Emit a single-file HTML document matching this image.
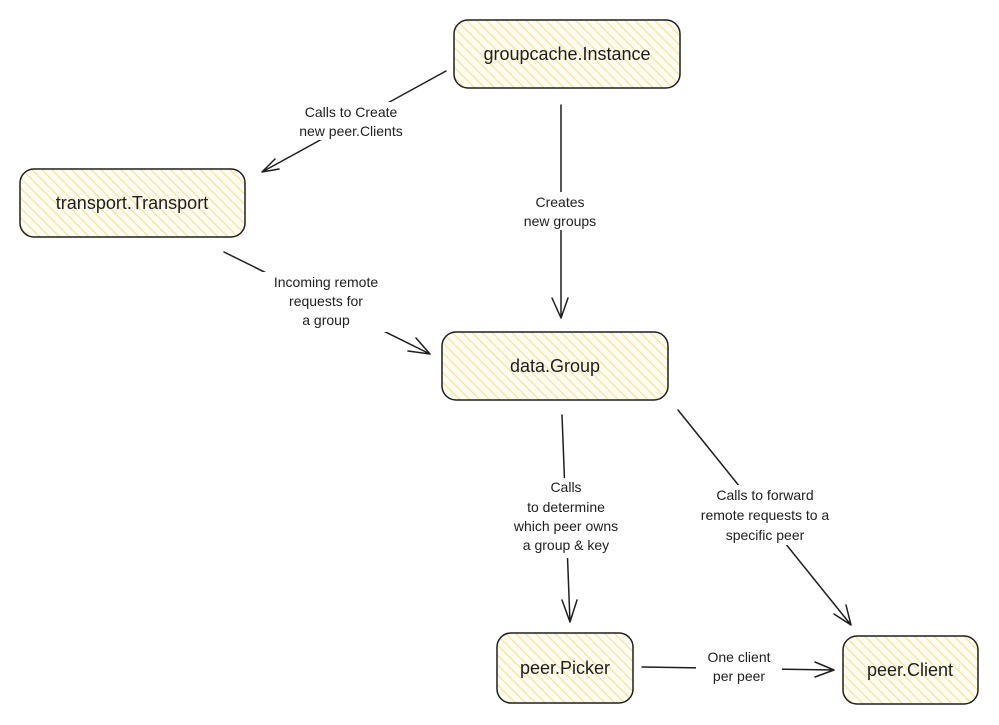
<!DOCTYPE html>
<html><head><meta charset="utf-8"><style>
html,body{margin:0;padding:0;background:#fff}
svg{display:block}
text{font-family:"Liberation Sans",sans-serif;fill:#1e1e1e}
.n{font-size:18px}
.l{font-size:14px}
</style></head><body>
<svg width="999" height="725" viewBox="0 0 999 725" xmlns="http://www.w3.org/2000/svg">
<defs>
<pattern id="h" width="7" height="7" patternUnits="userSpaceOnUse" patternTransform="rotate(-45)">
<rect width="7" height="7" fill="#fffdf2"/>
<line x1="0" y1="0" x2="0" y2="7" stroke="#f7e39a" stroke-width="2.5"/>
</pattern>
</defs>
<g stroke="#1e1e1e" stroke-width="1.5" fill="url(#h)">
<rect x="454" y="20" width="226" height="68" rx="14"/>
<rect x="20" y="169" width="225" height="68" rx="14"/>
<rect x="442" y="332" width="226" height="68" rx="14"/>
<rect x="497" y="633" width="136" height="70" rx="14"/>
<rect x="843" y="636" width="135" height="68" rx="14"/>
</g>
<g class="n" text-anchor="middle">
<text x="567" y="60">groupcache.Instance</text>
<text x="132" y="209">transport.Transport</text>
<text x="555" y="372">data.Group</text>
<text x="565" y="674">peer.Picker</text>
<text x="910" y="676">peer.Client</text>
</g>
<g stroke="#1e1e1e" stroke-width="1.5" fill="none" stroke-linecap="round">
<path d="M446 71 L262 172 M262 172 L275 159 M262 172 L279 169"/>
<path d="M561 105 L561 318 M561 318 L552 298 M561 318 L568 298"/>
<path d="M224 252 L430 354 M430 354 L408 351 M430 354 L416 338"/>
<path d="M562 415 L570 622 M570 622 L562 600 M570 622 L577 600"/>
<path d="M678 410 L851 625 M851 625 L834 614 M851 625 L846 605"/>
<path d="M642 667 L834 670 M834 670 L815 662 M834 670 L815 677"/>
</g>
<g class="l" text-anchor="middle">
<rect x="285" y="102" width="132" height="38" fill="#fff"/>
<text x="351" y="117">Calls to Create</text>
<text x="351" y="136">new peer.Clients</text>
<rect x="515" y="192" width="92" height="38" fill="#fff"/>
<text x="560" y="207">Creates</text>
<text x="560" y="226">new groups</text>
<rect x="258" y="272" width="136" height="60" fill="#fff"/>
<text x="326" y="287">Incoming remote</text>
<text x="326" y="306">requests for</text>
<text x="326" y="325">a group</text>
<rect x="497" y="478" width="136" height="80" fill="#fff"/>
<text x="566" y="492">Calls</text>
<text x="566" y="512">to determine</text>
<text x="566" y="531">which peer owns</text>
<text x="566" y="550">a group &amp; key</text>
<rect x="675" y="485" width="180" height="60" fill="#fff"/>
<text x="765" y="500">Calls to forward</text>
<text x="765" y="520">remote requests to a</text>
<text x="765" y="540">specific peer</text>
<rect x="696" y="648" width="86" height="40" fill="#fff"/>
<text x="739" y="662">One client</text>
<text x="739" y="681">per peer</text>
</g>
</svg>
</body></html>
